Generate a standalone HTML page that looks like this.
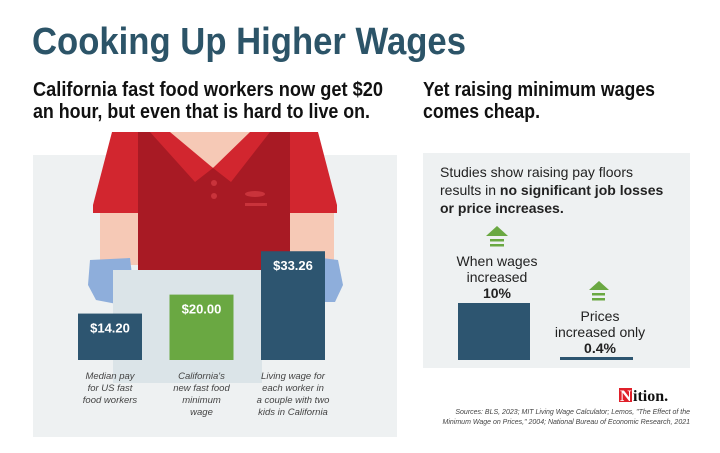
<!DOCTYPE html>
<html><head><meta charset="utf-8">
<style>
body{margin:0;background:#fff;}
svg{display:block;}
.nar{font-family:"Liberation Sans Narrow","Liberation Sans",sans-serif;}
.sans{font-family:"Liberation Sans",sans-serif;}
</style></head>
<body>
<svg width="720" height="453" viewBox="0 0 720 453" xmlns="http://www.w3.org/2000/svg">
<rect width="720" height="453" fill="#fff"/>
<text x="32" y="54" class="nar" font-size="38" font-weight="bold" fill="#2c5468" textLength="434" lengthAdjust="spacingAndGlyphs">Cooking Up Higher Wages</text>
<g class="nar" font-size="20" font-weight="bold" fill="#111">
<text x="33" y="96" textLength="350" lengthAdjust="spacingAndGlyphs">California fast food workers now get $20</text>
<text x="33" y="118" textLength="337" lengthAdjust="spacingAndGlyphs">an hour, but even that is hard to live on.</text>
</g>
<g class="nar" font-size="20" font-weight="bold" fill="#111">
<text x="423" y="96" textLength="232" lengthAdjust="spacingAndGlyphs">Yet raising minimum wages</text>
<text x="423" y="118" textLength="117" lengthAdjust="spacingAndGlyphs">comes cheap.</text>
</g>
<rect x="33" y="155" width="364" height="282" fill="#eef1f2"/>
<g>
<rect x="100" y="210" width="42" height="55" fill="#f6c9b6"/>
<rect x="290" y="210" width="44" height="55" fill="#f6c9b6"/>
<polygon points="90,260 130,258 134,292 122,305 96,300 88,285" fill="#8eaedb"/>
<polygon points="322,258 338,260 343,285 335,302 322,302" fill="#8eaedb"/>
<polygon points="112,132 318,132 337,205 337,213 93,213 93,205" fill="#d2262f"/>
<rect x="138" y="132" width="152" height="138" fill="#a81a24"/>
<polygon points="160,132 260,132 213,168" fill="#f6c9b6"/>
<polygon points="150,132 170,132 213,168 195,182" fill="#d2262f"/>
<polygon points="270,132 250,132 213,168 231,182" fill="#d2262f"/>
<circle cx="214" cy="183" r="3" fill="#c9333b"/>
<circle cx="214" cy="196" r="3" fill="#c9333b"/>
<ellipse cx="255" cy="194" rx="10" ry="3" fill="#c9333b"/>
<rect x="245" y="203" width="22" height="3" fill="#c9333b"/>
</g>
<rect x="113" y="270" width="149" height="113" fill="#dbe4e8"/>
<g id="bars"></g>
<rect x="423" y="153" width="267" height="215" fill="#eef1f2"/>
<g class="sans" font-size="14" fill="#222">
<text x="440" y="177">Studies show raising pay floors</text>
<text x="440" y="195">results in <tspan font-weight="bold">no significant job losses</tspan></text>
<text x="440" y="213" font-weight="bold">or price increases.</text>
</g>
<g fill="#6aa842">
<polygon points="486,236 508,236 497,226"/><rect x="490" y="239" width="14" height="2.5"/><rect x="490" y="244" width="14" height="2.5"/>
</g>
<g fill="#6aa842">
<polygon points="589,290 609,290 599,281"/><rect x="592" y="293" width="13" height="2.5"/><rect x="592" y="298" width="13" height="2.5"/>
</g>
<g class="sans" font-size="14" fill="#222" text-anchor="middle">
<text x="497" y="266">When wages</text>
<text x="497" y="282">increased</text>
<text x="497" y="298" font-weight="bold">10%</text>
<text x="600" y="321">Prices</text>
<text x="600" y="337">increased only</text>
<text x="600" y="353" font-weight="bold">0.4%</text>
</g>
<g id="rbars"></g>
<g>
<rect x="619" y="388" width="13" height="14" fill="#e0202a"/>
<text x="620" y="401" font-family="Liberation Serif,serif" font-size="16" font-weight="bold" fill="#fff">N</text>
<text x="633" y="401" font-family="Liberation Serif,serif" font-size="16" font-weight="bold" fill="#111">ition.</text>
</g>
<g class="sans" font-size="7" font-style="italic" fill="#444" text-anchor="end">
<text x="690" y="414">Sources: BLS, 2023; MIT Living Wage Calculator; Lemos, "The Effect of the</text>
<text x="690" y="424">Minimum Wage on Prices," 2004; National Bureau of Economic Research, 2021</text>
</g>
</svg>
<script>
const categories=["Median pay for US fast food workers","California's new fast food minimum wage","Living wage for each worker in a couple with two kids in California"];
const wages=[14.20,20.00,33.26];
const valueLabels=["$14.20","$20.00","$33.26"];
const barColors=["#2d5570","#6aa842","#2d5570"];
const captionLines=[["Median pay","for US fast","food workers"],["California's","new fast food","minimum","wage"],["Living wage for","each worker in","a couple with two","kids in California"]];
const rightCats=["Wages","Prices"];
const rightVals=[10,0.4];
const NS="http://www.w3.org/2000/svg";
const base=360, pxPer=3.27, barW=64, x0=78, step=91.5;
const y=v=>base-v*pxPer;
const g=document.getElementById('bars');
wages.forEach((v,i)=>{
  const x=x0+i*step;
  const r=document.createElementNS(NS,'rect');
  r.setAttribute('x',x);r.setAttribute('y',y(v));r.setAttribute('width',barW);r.setAttribute('height',base-y(v));r.setAttribute('fill',barColors[i]);
  
  
  g.appendChild(r);
  const t=document.createElementNS(NS,'text');
  t.setAttribute('x',x+barW/2);t.setAttribute('y',y(v)+19);t.setAttribute('text-anchor','middle');
  t.setAttribute('font-family','Liberation Sans,sans-serif');t.setAttribute('font-size','13');t.setAttribute('font-weight','bold');t.setAttribute('fill','#fff');
  t.textContent=valueLabels[i];
  
  
  g.appendChild(t);
  captionLines[i].forEach((l,j)=>{
    const c=document.createElementNS(NS,'text');
    c.setAttribute('x',x+barW/2);c.setAttribute('y',379+j*12);c.setAttribute('text-anchor','middle');
    c.setAttribute('font-family','Liberation Sans,sans-serif');c.setAttribute('font-size','9.5');c.setAttribute('font-style','italic');c.setAttribute('fill','#444');
    c.textContent=l;
    
    
    g.appendChild(c);
  });
});
const rg=document.getElementById('rbars');
const rBase=360, rPx=5.7, rX=[458,560], rW=[72,73];
rightVals.forEach((v,i)=>{
  const h=Math.max(v*rPx,3);
  const r=document.createElementNS(NS,'rect');
  r.setAttribute('x',rX[i]);r.setAttribute('y',rBase-h);r.setAttribute('width',rW[i]);r.setAttribute('height',h);r.setAttribute('fill','#2d5570');
  
  
  rg.appendChild(r);
});
</script>
</body></html>
